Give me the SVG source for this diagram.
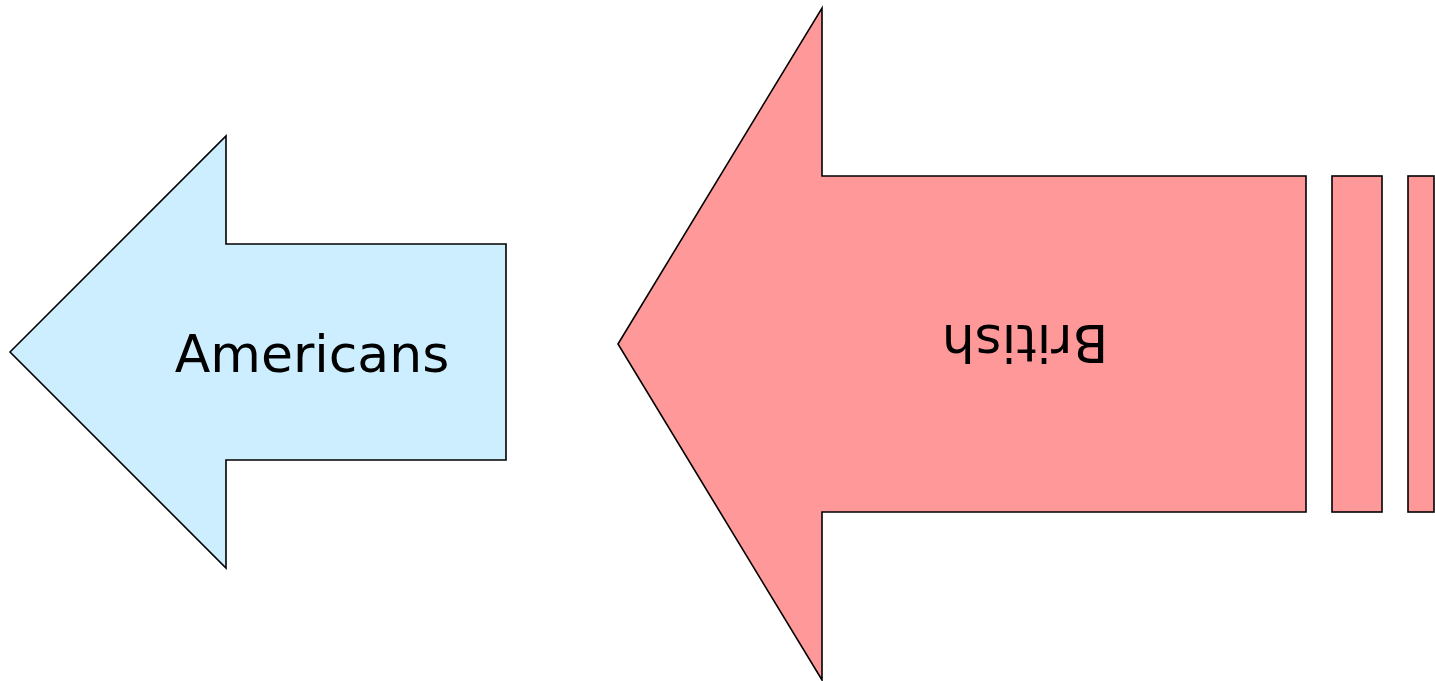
<svg xmlns="http://www.w3.org/2000/svg" width="1435" height="681" viewBox="0 0 1435 681">
  <style>
    .shape { stroke: #000; stroke-width: 1.6; stroke-linejoin: miter; }
    .blue { fill: #cceeff; }
    .red { fill: #ff9999; }
    .label { font-family: "DejaVu Sans", Verdana, sans-serif; font-size: 52px; fill: #000; text-anchor: middle; }
  </style>
  <rect width="1435" height="681" fill="#ffffff"/>
  <g id="americans">
    <polygon class="shape blue" points="10,352 226,136 226,244 506,244 506,460 226,460 226,568"/>
    <text class="label" x="312" y="372">Americans</text>
  </g>
  <g id="british">
    <polygon class="shape red" points="618,344 822,8 822,176 1306,176 1306,512 822,512 822,680"/>
    <rect class="shape red" x="1332" y="176" width="50" height="336"/>
    <rect class="shape red" x="1408" y="176" width="26" height="336"/>
    <text class="label" x="1025" y="363" transform="rotate(180 1025 344)">British</text>
  </g>
  <g id="connectors"></g>
</svg>
